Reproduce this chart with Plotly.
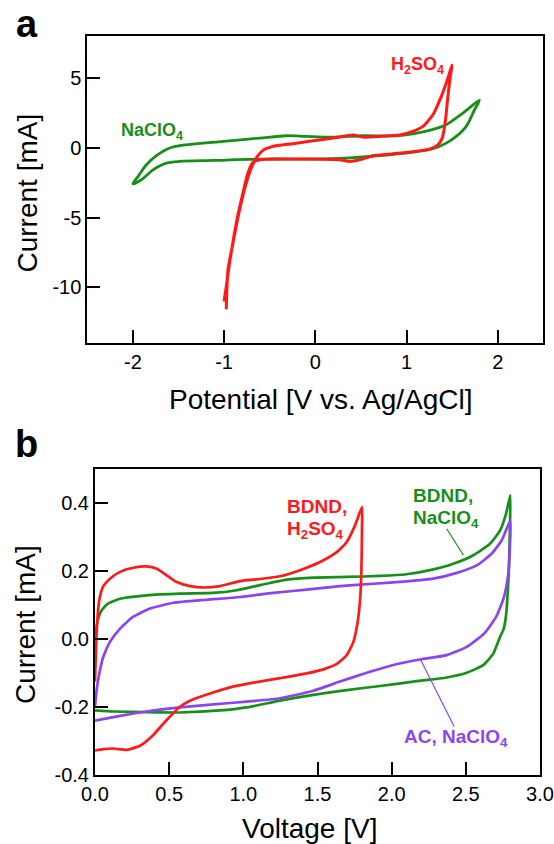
import plotly.graph_objects as go

# ---------------- Panel a data ----------------
a_naclo4_v = [-2.0, -1.943, -1.852, -1.742, -1.596, -1.414, -1.012, -0.611, -0.319, -0.10, 0.19, 0.52,
              0.887, 1.07, 1.25, 1.436, 1.618, 1.80, 1.746, 1.655, 1.545, 1.436, 1.29, 1.07, 0.705,
              0.34, -0.026, -0.574, -1.122, -1.487, -1.633, -1.779, -1.907, -2.0]
a_naclo4_i = [-2.58, -2.05, -1.22, -0.57, -0.02, 0.21, 0.45, 0.69, 0.86, 0.81, 0.76, 0.86,
              0.86, 1.0, 1.24, 1.65, 2.48, 3.4, 2.72, 1.53, 0.81, 0.33, -0.07, -0.31, -0.57,
              -0.74, -0.81, -0.81, -0.91, -0.98, -1.10, -1.58, -2.29, -2.58]

a_h2so4_v = [-0.976, -0.958, -0.903, -0.830, -0.757, -0.702, -0.647, -0.574, -0.464, -0.245, -0.026,
             0.193, 0.412, 0.522, 0.705, 0.924, 1.07, 1.18, 1.29, 1.382, 1.436, 1.50, 1.48, 1.454,
             1.428, 1.392, 1.344, 1.253, 1.07, 0.851, 0.632, 0.486, 0.376, 0.267, -0.026, -0.391,
             -0.611, -0.684, -0.739, -0.794, -0.867, -0.940, -0.976, -1.001]
a_h2so4_i = [-11.56, -8.74, -6.83, -4.44, -2.53, -1.46, -0.74, -0.19, 0.10, 0.29, 0.50,
             0.69, 0.91, 0.76, 0.81, 0.91, 1.17, 1.53, 2.36, 3.68, 4.63, 5.9, 5.11, 3.68,
             2.01, 0.69, 0.21, -0.10, -0.29, -0.43, -0.57, -0.86, -0.98, -0.86, -0.81, -0.81,
             -0.86, -1.05, -1.81, -3.25, -5.40, -8.26, -9.93, -11.0]

a_xticks = [-2, -1, 0, 1, 2]
a_xticklabels = ["-2", "-1", "0", "1", "2"]
a_yticks = [-10, -5, 0, 5]
a_yticklabels = ["-10", "-5", "0", "5"]

# ---------------- Panel b data ----------------
b_h2so4_v = [0.0, 0.007, 0.016, 0.029, 0.056, 0.101, 0.169, 0.258, 0.348, 0.416, 0.483, 0.551,
             0.641, 0.731, 0.843, 0.978, 1.113, 1.247, 1.382, 1.517, 1.630, 1.697, 1.753, 1.80,
             1.80, 1.796, 1.787, 1.769, 1.742, 1.697, 1.630, 1.54, 1.427, 1.247, 1.068, 0.910,
             0.775, 0.663, 0.573, 0.483, 0.393, 0.303, 0.214, 0.124, 0.056, 0.0]
b_h2so4_i = [-0.125, -0.023, 0.056, 0.115, 0.156, 0.178, 0.198, 0.210, 0.214, 0.207, 0.188, 0.168,
             0.156, 0.152, 0.156, 0.171, 0.177, 0.185, 0.203, 0.227, 0.256, 0.286, 0.335, 0.389,
             0.33, 0.203, 0.115, 0.046, -0.008, -0.047, -0.073, -0.089, -0.101, -0.115, -0.128, -0.142,
             -0.160, -0.177, -0.199, -0.238, -0.282, -0.314, -0.326, -0.322, -0.324, -0.328]

b_naclo4_v = [0.0, 0.007, 0.022, 0.045, 0.09, 0.169, 0.348, 0.573, 0.798, 0.955, 1.113, 1.292,
              1.472, 1.697, 1.922, 2.10, 2.259, 2.416, 2.551, 2.663, 2.731, 2.771, 2.80,
              2.797, 2.791, 2.782, 2.770, 2.755, 2.731, 2.686, 2.619, 2.506, 2.371, 2.147, 1.922, 1.697,
              1.472, 1.247, 1.023, 0.843, 0.573, 0.348, 0.124, 0.0]
b_naclo4_i = [-0.003, 0.026, 0.061, 0.085, 0.105, 0.119, 0.129, 0.134, 0.136, 0.144, 0.159, 0.175,
              0.181, 0.183, 0.186, 0.191, 0.203, 0.222, 0.247, 0.281, 0.320, 0.369, 0.423,
              0.330, 0.212, 0.134, 0.066, 0.030, 0.007, -0.042, -0.076, -0.099, -0.113, -0.125, -0.138, -0.150,
              -0.164, -0.181, -0.201, -0.210, -0.216, -0.215, -0.213, -0.210]

b_ac_v = [0.0, 0.011, 0.029, 0.056, 0.101, 0.169, 0.258, 0.371, 0.528, 0.753, 0.978, 1.203,
          1.427, 1.652, 1.877, 2.102, 2.281, 2.439, 2.574, 2.675, 2.742, 2.80,
          2.797, 2.786, 2.757, 2.705, 2.625, 2.506, 2.371, 2.191, 2.012, 1.832, 1.652, 1.472,
          1.247, 1.023, 0.798, 0.573, 0.348, 0.169, 0.0]
b_ac_i = [-0.199, -0.150, -0.101, -0.052, -0.008, 0.031, 0.066, 0.090, 0.107, 0.116, 0.124, 0.136,
          0.146, 0.156, 0.163, 0.170, 0.178, 0.195, 0.217, 0.252, 0.291, 0.349,
          0.271, 0.193, 0.124, 0.066, 0.017, -0.023, -0.047, -0.060, -0.076, -0.099, -0.125, -0.152,
          -0.174, -0.184, -0.192, -0.201, -0.213, -0.226, -0.240]

b_xticks = [0.0, 0.5, 1.0, 1.5, 2.0, 2.5, 3.0]
b_xticklabels = ["0.0", "0.5", "1.0", "1.5", "2.0", "2.5", "3.0"]
b_yticks = [-0.4, -0.2, 0.0, 0.2, 0.4]
b_yticklabels = ["-0.4", "-0.2", "0.0", "0.2", "0.4"]

# leader lines (data coordinates of panel b)
lead_naclo4_v = [2.371, 2.484]
lead_naclo4_i = [0.325, 0.247]
lead_ac_v = [2.191, 2.421]
lead_ac_i = [-0.057, -0.257]

RED = "#FF1A1A"
GREEN = "#17901A"
PURPLE = "#8C45EE"
FONT = "Liberation Sans, Arial, sans-serif"
W, H = 554, 844

fig = go.Figure()
fig.add_trace(go.Scatter(x=a_naclo4_v, y=a_naclo4_i, mode="lines",
                         line=dict(color=GREEN, width=2.8, shape="spline", smoothing=0.8),
                         xaxis="x", yaxis="y"))
fig.add_trace(go.Scatter(x=a_h2so4_v, y=a_h2so4_i, mode="lines",
                         line=dict(color=RED, width=3, shape="spline", smoothing=0.5),
                         xaxis="x", yaxis="y"))
fig.add_trace(go.Scatter(x=b_naclo4_v, y=b_naclo4_i, mode="lines",
                         line=dict(color=GREEN, width=2.7, shape="spline", smoothing=0.5),
                         xaxis="x2", yaxis="y2"))
fig.add_trace(go.Scatter(x=b_ac_v, y=b_ac_i, mode="lines",
                         line=dict(color=PURPLE, width=2.7, shape="spline", smoothing=0.5),
                         xaxis="x2", yaxis="y2"))
fig.add_trace(go.Scatter(x=b_h2so4_v, y=b_h2so4_i, mode="lines",
                         line=dict(color=RED, width=2.7, shape="spline", smoothing=0.5),
                         xaxis="x2", yaxis="y2"))
fig.add_trace(go.Scatter(x=lead_naclo4_v, y=lead_naclo4_i, mode="lines", line=dict(color=GREEN, width=1.2),
                         xaxis="x2", yaxis="y2"))
fig.add_trace(go.Scatter(x=lead_ac_v, y=lead_ac_i, mode="lines", line=dict(color=PURPLE, width=1.2),
                         xaxis="x2", yaxis="y2"))


def px_x(p):
    return p / W


def px_y(p):
    return 1 - p / H


axis_common = dict(showgrid=False, zeroline=False, showline=True, linecolor="black", linewidth=2,
                   mirror=True, ticks="inside", ticklen=13, tickwidth=2, tickcolor="black",
                   automargin=False, tickmode="array",
                   tickfont=dict(family=FONT, size=20, color="black"))

fig.update_layout(
    width=W, height=H, margin=dict(l=0, r=0, t=0, b=0, autoexpand=False),
    paper_bgcolor="white", plot_bgcolor="white", showlegend=False,
    font=dict(family=FONT, color="black"),
    xaxis=dict(domain=[px_x(87.3), px_x(543.3)], range=[-2.5, 2.5], tickvals=a_xticks,
               ticktext=a_xticklabels, anchor="y", **axis_common),
    yaxis=dict(domain=[px_y(343.3), px_y(36)], range=[-14, 8], tickvals=a_yticks,
               ticktext=a_yticklabels, anchor="x", **axis_common),
    xaxis2=dict(domain=[px_x(95), px_x(540)], range=[0, 3], tickvals=b_xticks,
                ticktext=b_xticklabels, anchor="y2", **axis_common),
    yaxis2=dict(domain=[px_y(775), px_y(469.3)], range=[-0.4, 0.5], tickvals=b_yticks,
                ticktext=b_yticklabels, anchor="x2", **axis_common),
)


def ann(text, x, y, size, color="black", bold=False, angle=0, xanchor="center", yanchor="middle"):
    t = f"<b>{text}</b>" if bold else text
    fig.add_annotation(text=t, x=px_x(x), y=px_y(y), xref="paper", yref="paper", showarrow=False,
                       font=dict(family=FONT, size=size, color=color), textangle=angle,
                       xanchor=xanchor, yanchor=yanchor)


# panel labels
ann("a", 27, 24, 38, bold=True)
ann("b", 26, 444, 38, bold=True)
# axis titles
ann("Current [mA]", 27.5, 193, 28, angle=-90)
ann("Potential [V vs. Ag/AgCl]", 321, 399, 28)
ann("Current [mA]", 25, 625, 28, angle=-90)
ann("Voltage [V]", 309, 828, 28)
# series labels panel a
ann("NaClO<sub>4</sub>", 119, 132, 18, color=GREEN, bold=True, xanchor="left")
ann("H<sub>2</sub>SO<sub>4</sub>", 389, 66, 18, color=RED, bold=True, xanchor="left")
# series labels panel b
ann("BDND,", 285, 507, 19, color=RED, bold=True, xanchor="left")
ann("H<sub>2</sub>SO<sub>4</sub>", 285, 530, 19, color=RED, bold=True, xanchor="left")
ann("BDND,", 411, 496, 19, color=GREEN, bold=True, xanchor="left")
ann("NaClO<sub>4</sub>", 411, 518.5, 19, color=GREEN, bold=True, xanchor="left")
ann("AC, NaClO<sub>4</sub>", 402, 737.5, 19, color=PURPLE, bold=True, xanchor="left")

fig.write_html("out.html", config={"displayModeBar": False})
